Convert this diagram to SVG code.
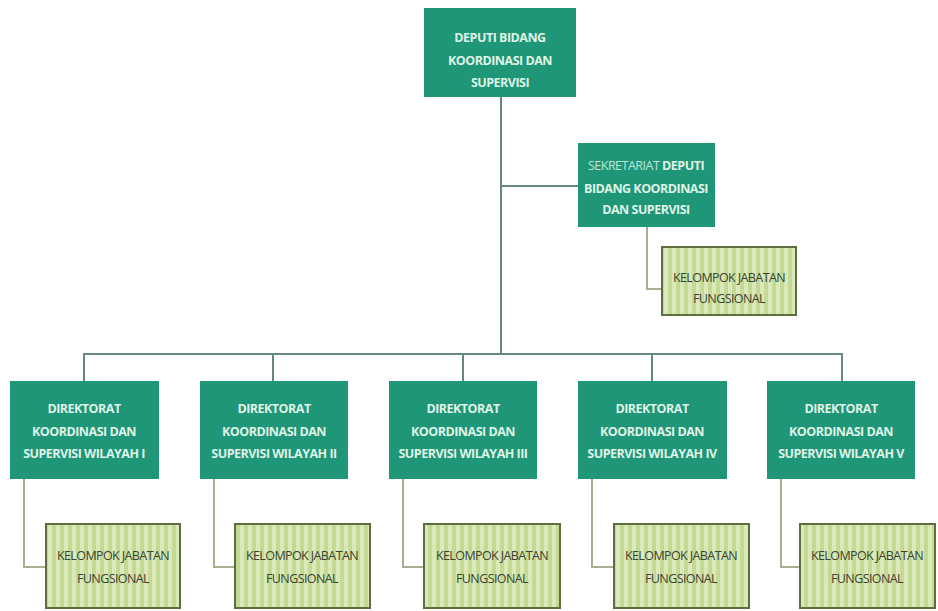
<svg xmlns="http://www.w3.org/2000/svg" width="938" height="611" viewBox="0 0 938 611">
  <style>
    .unit { fill: #1e9677; }
    .unit-text { font-family: "Open Sans", "Liberation Sans", sans-serif; font-weight: 700; font-size: 12.5px; fill: #dff3e6; text-anchor: middle; letter-spacing: -0.5px; }
    .light { font-weight: 400; fill: #bfe6d4; }
    .group-box { fill: url(#stripes); stroke: #5f6e3e; stroke-width: 2; }
    .group-text { font-family: "Open Sans", "Liberation Sans", sans-serif; font-weight: 400; font-size: 12.5px; fill: #3c4232; text-anchor: middle; letter-spacing: -0.6px; }
    .link { fill: none; stroke: #668a82; stroke-width: 2; }
    .sub-link { fill: none; stroke: #a9ad92; stroke-width: 2; }
  </style>
  <defs>
    <pattern id="stripes" width="8" height="8" patternUnits="userSpaceOnUse">
      <rect width="8" height="8" fill="#dbe9ba"/>
      <rect x="4" width="4" height="8" fill="#c4da94"/>
    </pattern>
  </defs>
  <rect width="938" height="611" fill="#ffffff"/>

  <!-- connectors -->
  <g id="connectors">
    <path class="link" d="M501 97 V354"/>
    <path class="link" d="M501 186 H578"/>
    <path class="link" d="M84 381 V354 H842 V381"/>
    <path class="link" d="M273 354 V381"/>
    <path class="link" d="M463 354 V381"/>
    <path class="link" d="M652 354 V381"/>
    <path class="sub-link" d="M647 227 V289 H662"/>
    <path class="sub-link" d="M24 479 V567 H46"/>
    <path class="sub-link" d="M214 479 V567 H235"/>
    <path class="sub-link" d="M403 479 V567 H424"/>
    <path class="sub-link" d="M592 479 V567 H614"/>
    <path class="sub-link" d="M781 479 V567 H800"/>
  </g>

  <!-- top unit -->
  <g id="deputi">
    <rect class="unit" x="424" y="8" width="152" height="89"/>
    <text class="unit-text" x="500" y="42">DEPUTI BIDANG</text>
    <text class="unit-text" x="500" y="65">KOORDINASI DAN</text>
    <text class="unit-text" x="500" y="87">SUPERVISI</text>
  </g>

  <!-- secretariat -->
  <g id="sekretariat">
    <rect class="unit" x="578" y="143" width="137" height="84"/>
    <text class="unit-text" x="646" y="170"><tspan class="light">SEKRETARIAT</tspan> DEPUTI</text>
    <text class="unit-text" x="646" y="193">BIDANG KOORDINASI</text>
    <text class="unit-text" x="646" y="214">DAN SUPERVISI</text>
  </g>
  <g id="kelompok-sekretariat">
    <rect class="group-box" x="662" y="247" width="134" height="68"/>
    <text class="group-text" x="729" y="282">KELOMPOK JABATAN</text>
    <text class="group-text" x="729" y="303">FUNGSIONAL</text>
  </g>

  <!-- directorates -->
  <g id="direktorat-1">
    <rect class="unit" x="10" y="381" width="149" height="98"/>
    <text class="unit-text" x="84" y="413">DIREKTORAT</text>
    <text class="unit-text" x="84" y="436">KOORDINASI DAN</text>
    <text class="unit-text" x="84" y="458">SUPERVISI WILAYAH I</text>
  </g>
  <g id="direktorat-2">
    <rect class="unit" x="200" y="381" width="148" height="98"/>
    <text class="unit-text" x="274" y="413">DIREKTORAT</text>
    <text class="unit-text" x="274" y="436">KOORDINASI DAN</text>
    <text class="unit-text" x="274" y="458">SUPERVISI WILAYAH II</text>
  </g>
  <g id="direktorat-3">
    <rect class="unit" x="389" y="381" width="148" height="98"/>
    <text class="unit-text" x="463" y="413">DIREKTORAT</text>
    <text class="unit-text" x="463" y="436">KOORDINASI DAN</text>
    <text class="unit-text" x="463" y="458">SUPERVISI WILAYAH III</text>
  </g>
  <g id="direktorat-4">
    <rect class="unit" x="578" y="381" width="149" height="98"/>
    <text class="unit-text" x="652" y="413">DIREKTORAT</text>
    <text class="unit-text" x="652" y="436">KOORDINASI DAN</text>
    <text class="unit-text" x="652" y="458">SUPERVISI WILAYAH IV</text>
  </g>
  <g id="direktorat-5">
    <rect class="unit" x="767" y="381" width="148" height="98"/>
    <text class="unit-text" x="841" y="413">DIREKTORAT</text>
    <text class="unit-text" x="841" y="436">KOORDINASI DAN</text>
    <text class="unit-text" x="841" y="458">SUPERVISI WILAYAH V</text>
  </g>

  <!-- functional groups -->
  <g id="kelompok-1">
    <rect class="group-box" x="46" y="524" width="134" height="84"/>
    <text class="group-text" x="113" y="560">KELOMPOK JABATAN</text>
    <text class="group-text" x="113" y="583">FUNGSIONAL</text>
  </g>
  <g id="kelompok-2">
    <rect class="group-box" x="235" y="524" width="135" height="84"/>
    <text class="group-text" x="302" y="560">KELOMPOK JABATAN</text>
    <text class="group-text" x="302" y="583">FUNGSIONAL</text>
  </g>
  <g id="kelompok-3">
    <rect class="group-box" x="424" y="524" width="136" height="84"/>
    <text class="group-text" x="492" y="560">KELOMPOK JABATAN</text>
    <text class="group-text" x="492" y="583">FUNGSIONAL</text>
  </g>
  <g id="kelompok-4">
    <rect class="group-box" x="614" y="524" width="135" height="84"/>
    <text class="group-text" x="681" y="560">KELOMPOK JABATAN</text>
    <text class="group-text" x="681" y="583">FUNGSIONAL</text>
  </g>
  <g id="kelompok-5">
    <rect class="group-box" x="800" y="524" width="135" height="84"/>
    <text class="group-text" x="867" y="560">KELOMPOK JABATAN</text>
    <text class="group-text" x="867" y="583">FUNGSIONAL</text>
  </g>
</svg>
